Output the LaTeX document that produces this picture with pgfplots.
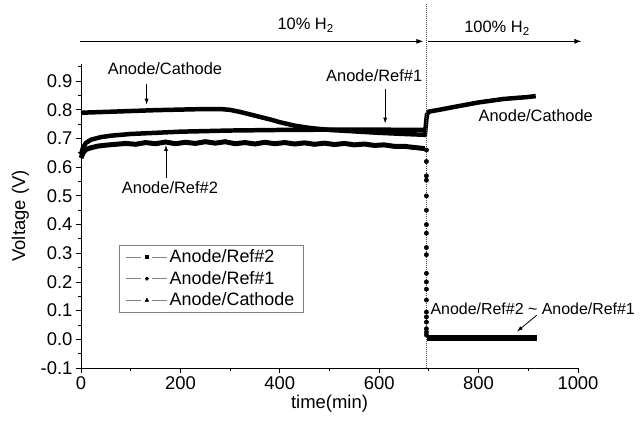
\documentclass[border=0pt]{standalone}
\usepackage{pgfplots}
\pgfplotsset{compat=1.18}
\usepackage{fontspec}
\setmainfont{Liberation Sans}
\usetikzlibrary{arrows.meta}
\begin{document}
\begin{tikzpicture}
\useasboundingbox (-81bp,-59bp) rectangle (560bp,368bp);
\begin{axis}[
  at={(0,0)}, anchor=south west,
  scale only axis, width=497bp, height=304bp,
  xmin=0, xmax=1000, ymin=-0.1, ymax=0.96,
  axis x line=bottom, axis y line=left,
  axis line style={-, line width=0.9pt},
  xtick={0,200,...,1000}, minor xtick={100,300,...,900},
  ytick={-0.1,0,0.1,0.2,0.3,0.4,0.5,0.6,0.7,0.8,0.9},
  minor ytick={-0.05,0.05,0.15,...,0.95},
  xticklabel style={/pgf/number format/.cd,1000 sep={}},
  yticklabel style={/pgf/number format/.cd,fixed,fixed zerofill,precision=1},
  tick align=outside,
  major tick length=5bp, minor tick length=3bp,
  tick style={line width=0.9pt, black},
  /pgf/number format/assume math mode=true,
  ticklabel style={font=\fontsize{18.5}{21}\selectfont},
  xlabel={time(min)}, ylabel={Voltage (V)},
  label style={font=\fontsize{18.5}{21}\selectfont},
  xlabel style={yshift=1bp},
  ylabel style={yshift=5bp},
  clip=false,
  legend style={at={(axis cs:76,0.33)}, anchor=north west, draw=gray, line width=0.6pt,
    font=\fontsize{18}{20}\selectfont, inner xsep=7pt, inner ysep=3pt, row sep=3pt},
  legend cell align=left,
]
\addlegendimage{legend image code/.code={\draw[gray,line width=0.7pt] (0,0)--(15bp,0) (26bp,0)--(41bp,0); \fill[black] (20.5bp,0) ++(-1.5pt,-1.5pt) rectangle ++(3pt,3pt);}}
\addlegendentry{Anode/Ref\#2}
\addlegendimage{legend image code/.code={\draw[gray,line width=0.7pt] (0,0)--(15bp,0) (26bp,0)--(41bp,0); \fill[black] (20.5bp,0) circle (1.7pt);}}
\addlegendentry{Anode/Ref\#1}
\addlegendimage{legend image code/.code={\draw[gray,line width=0.7pt] (0,0)--(15bp,0) (26bp,0)--(41bp,0); \fill[black] (20.5bp,2pt) -- ++(-1.8pt,-3.3pt) -- ++(3.6pt,0) -- cycle;}}
\addlegendentry{Anode/Cathode}

% Anode/Ref#2
\addplot[black, line width=5pt, forget plot] coordinates {
(0,0.632) (4,0.650) (10,0.662) (20,0.668) (35,0.674) (50,0.677) (70,0.680) (90,0.683)
(110,0.680) (130,0.686) (150,0.682) (170,0.688) (190,0.682) (210,0.687) (230,0.683)
(250,0.689) (270,0.684) (290,0.689) (310,0.682) (330,0.686) (350,0.681) (370,0.687)
(390,0.682) (410,0.686) (430,0.681) (450,0.685) (470,0.680) (490,0.684) (510,0.679)
(530,0.683) (550,0.678) (570,0.681) (590,0.676) (610,0.678) (630,0.673) (650,0.673)
(670,0.669) (692,0.665)};
% Anode/Ref#1
\addplot[black, line width=4.5pt, forget plot] coordinates {
(0,0.645) (4,0.668) (10,0.685) (20,0.696) (40,0.705) (60,0.710) (100,0.716)
(150,0.720) (200,0.724) (300,0.728) (400,0.730) (500,0.731) (600,0.731) (692,0.730)};
% Anode/Cathode
\addplot[black, line width=4.5pt, forget plot] coordinates {
(0,0.790) (50,0.793) (100,0.796) (150,0.799) (200,0.801) (250,0.803) (280,0.803)
(300,0.800) (320,0.793) (350,0.780) (380,0.767) (400,0.757) (430,0.745) (460,0.737)
(500,0.730) (550,0.725) (600,0.720) (650,0.716) (692,0.713)
(694,0.750) (696,0.783) (700,0.794) (720,0.800) (750,0.810) (800,0.826) (850,0.838)
(900,0.845) (915,0.848)};
% drop points at the switch
\addplot[black, only marks, mark=*, mark size=2.2pt, forget plot] coordinates {
(695,0.66) (695,0.62) (695,0.57) (695,0.555) (695,0.50) (695,0.45) (695,0.40)
(695,0.37) (695,0.32) (695,0.295) (695,0.23) (695,0.20) (695,0.175) (695,0.137)
(695,0.095) (695,0.078) (695,0.06) (695,0.037) (695,0.025) (695,0.015)};
% Ref#2 ~ Ref#1 after switch
\addplot[black, line width=6pt, forget plot] coordinates {
(696,0.004) (750,0.004) (800,0.004) (850,0.004) (917,0.004)};

\draw[densely dotted, line width=1pt, black!70] (axis cs:695,-0.1) -- (axis cs:695,1.17);
\draw[-{Latex[length=7bp,width=5bp]}, line width=0.9pt] (axis cs:-3,1.039) -- (axis cs:689,1.039);
\draw[-{Latex[length=7bp,width=5bp]}, line width=0.9pt] (axis cs:699,1.039) -- (axis cs:1007,1.039);
\node[font=\fontsize{16.5}{19}\selectfont] at (axis cs:452,1.095) {10\% H\textsubscript{2}};
\node[font=\fontsize{16.5}{19}\selectfont] at (axis cs:837,1.085) {100\% H\textsubscript{2}};

\node[font=\fontsize{16.5}{19}\selectfont] at (axis cs:169,0.944) {Anode/Cathode};
\draw[-{Latex[length=6bp,width=4bp]}, line width=0.8pt] (axis cs:132,0.89) -- (axis cs:132,0.818);
\node[font=\fontsize{16.5}{19}\selectfont] at (axis cs:590,0.92) {Anode/Ref\#1};
\draw[-{Latex[length=6bp,width=4bp]}, line width=0.8pt] (axis cs:612,0.872) -- (axis cs:612,0.752);
\node[font=\fontsize{16.5}{19}\selectfont] at (axis cs:179,0.53) {Anode/Ref\#2};
\draw[-{Latex[length=6bp,width=4bp]}, line width=0.8pt] (axis cs:171,0.562) -- (axis cs:171,0.678);
\node[font=\fontsize{16.5}{19}\selectfont] at (axis cs:915,0.78) {Anode/Cathode};
\node[font=\fontsize{16}{19}\selectfont, anchor=west, inner sep=0pt] at (axis cs:703,0.108) {Anode/Ref\#2 \textasciitilde{} Anode/Ref\#1};
\draw[-{Latex[length=6bp,width=4bp]}, line width=0.8pt] (axis cs:917,0.084) -- (axis cs:877,0.027);
\end{axis}
\end{tikzpicture}
\end{document}
